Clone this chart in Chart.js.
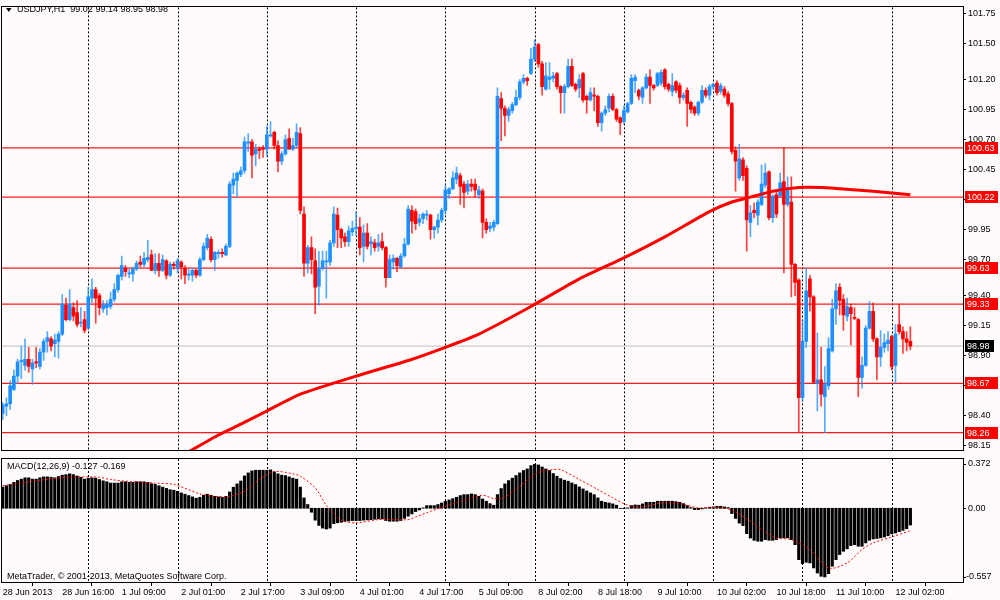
<!DOCTYPE html>
<html><head><meta charset="utf-8">
<script src="https://cdn.jsdelivr.net/npm/chart.js@4.4.1/dist/chart.umd.min.js"></script>
<style>
html,body{margin:0;padding:0;background:#fffbfa;width:1000px;height:600px;overflow:hidden}
canvas{position:absolute;left:0}
#main{top:0}
#macd{top:456px}
</style></head><body>
<canvas id="main" width="1000" height="458" style="width:1000px;height:458px"></canvas>
<canvas id="macd" width="1000" height="144" style="width:1000px;height:144px"></canvas>
<script>
// ---------- DATA ----------
const symbolTitle = 'USDJPY,H1  99.02 99.14 98.95 98.98';
const macdTitle = 'MACD(12,26,9) -0.127 -0.169';
const footerText = 'MetaTrader, \u00A9 2001-2013, MetaQuotes Software Corp.';
const tickLabels = ['28 Jun 2013','28 Jun 16:00','1 Jul 09:00','2 Jul 01:00','2 Jul 17:00','3 Jul 09:00','4 Jul 01:00','4 Jul 17:00','5 Jul 09:00','8 Jul 02:00','8 Jul 18:00','9 Jul 10:00','10 Jul 02:00','10 Jul 18:00','11 Jul 10:00','12 Jul 02:00'];
const tickEvery = 16;
const gridIdx = [23,47,71,95,119,143,167,191,215,239];
const priceTicks = [101.75,101.50,101.20,100.95,100.70,100.45,100.20,99.95,99.70,99.40,99.15,98.90,98.65,98.40,98.15];
const levels = [100.63,100.22,99.63,99.33,98.67,98.26];
const lastPrice = 98.98;
const macdTicks = [0.372,0.00,-0.557];

const opens = [
98.42,98.48,98.50,98.62,98.73,98.85,98.82,98.87,98.79,98.85,
98.81,98.93,99.02,99.04,99.00,99.02,99.08,99.32,99.20,99.30,
99.26,99.17,99.20,99.13,99.38,99.45,99.40,99.29,99.30,99.31,
99.37,99.45,99.56,99.63,99.58,99.58,99.62,99.68,99.66,99.70,
99.74,99.61,99.67,99.61,99.69,99.57,99.66,99.63,99.68,99.63,
99.57,99.57,99.61,99.57,99.70,99.80,99.87,99.70,99.75,99.76,
99.74,99.81,100.32,100.36,100.41,100.44,100.67,100.68,100.58,100.62,
100.63,100.62,100.73,100.76,100.65,100.52,100.58,100.71,100.62,100.65,
100.75,100.08,99.67,99.80,99.69,99.48,99.63,99.68,99.68,99.84,
100.07,99.95,99.89,99.85,99.93,99.96,99.97,99.81,99.92,99.83,
99.84,99.81,99.85,99.80,99.55,99.68,99.71,99.64,99.73,99.83,
100.11,100.10,100.01,100.04,100.07,100.07,99.95,99.97,100.03,100.11,
100.25,100.29,100.37,100.40,100.33,100.27,100.33,100.33,100.24,100.27,
100.01,99.96,99.97,100.00,101.04,100.96,100.90,100.94,100.99,101.05,
101.18,101.21,101.25,101.37,101.49,101.33,101.12,101.20,101.21,101.25,
101.14,101.09,101.14,101.31,101.16,101.13,101.25,101.06,101.03,101.07,
101.06,100.84,100.92,100.96,101.06,100.95,100.88,100.85,100.93,101.00,
101.19,101.11,101.05,101.13,101.22,101.15,101.15,101.17,101.28,101.16,
101.10,101.18,101.15,101.05,101.11,101.01,100.97,100.92,101.01,101.11,
101.07,101.14,101.17,101.10,101.12,101.08,101.00,100.61,100.38,100.53,
100.46,100.01,100.11,100.07,100.16,100.32,100.43,100.05,100.24,100.23,
100.35,100.16,100.18,99.66,99.53,98.55,99.02,99.54,99.39,98.67,
98.70,98.56,98.65,98.94,99.29,99.47,99.37,99.23,99.30,99.22,
99.20,98.72,98.82,99.13,99.27,99.04,98.89,98.97,99.00,99.06,
98.82,99.16,99.10,99.04,99.02];
const highs = [
98.51,98.55,98.69,98.78,98.87,98.98,99.04,98.97,98.87,98.97,
98.96,99.04,99.10,99.06,99.08,99.10,99.41,99.38,99.45,99.34,
99.36,99.30,99.27,99.47,99.54,99.47,99.42,99.36,99.36,99.43,
99.50,99.58,99.73,99.65,99.62,99.64,99.69,99.73,99.76,99.86,
99.78,99.75,99.75,99.74,99.70,99.68,99.68,99.71,99.69,99.65,
99.62,99.63,99.62,99.72,99.84,99.91,99.89,99.77,99.78,99.79,
99.83,100.35,100.42,100.43,100.47,100.72,100.75,100.70,100.66,100.64,
100.65,100.81,100.85,100.77,100.69,100.60,100.74,100.79,100.71,100.83,
100.80,100.14,99.82,99.89,99.79,99.77,99.77,99.77,99.86,100.14,
100.13,99.96,99.92,99.98,100.02,100.10,100.05,99.99,100.00,99.89,
99.87,99.91,99.92,99.81,99.74,99.74,99.72,99.75,99.88,100.15,
100.15,100.12,100.08,100.09,100.11,100.08,99.98,100.08,100.13,100.32,
100.30,100.43,100.47,100.42,100.35,100.36,100.37,100.37,100.31,100.29,
100.04,100.01,100.03,101.13,101.09,100.98,100.97,101.01,101.11,101.20,
101.24,101.22,101.46,101.53,101.50,101.35,101.34,101.34,101.26,101.26,
101.15,101.16,101.37,101.37,101.17,101.24,101.26,101.07,101.13,101.13,
101.07,100.93,100.98,101.08,101.08,100.96,100.89,100.98,101.01,101.24,
101.24,101.12,101.14,101.25,101.28,101.16,101.26,101.28,101.29,101.17,
101.25,101.19,101.17,101.09,101.13,101.02,100.98,101.02,101.15,101.13,
101.16,101.17,101.19,101.17,101.14,101.10,101.01,100.64,100.66,100.55,
100.48,100.15,100.17,100.20,100.49,100.50,100.44,100.24,100.26,100.42,
100.63,100.39,100.39,99.67,99.54,99.19,99.63,99.57,99.40,99.09,
98.97,98.81,99.05,99.37,99.50,99.50,99.41,99.38,99.33,99.30,
99.21,98.89,99.15,99.35,99.34,99.05,99.11,99.08,99.10,99.07,
99.16,99.33,99.14,99.10,99.14];
const lows = [
98.37,98.40,98.45,98.61,98.67,98.71,98.78,98.76,98.66,98.80,
98.79,98.86,98.93,98.94,98.89,98.88,99.07,99.19,99.19,99.19,
99.14,99.14,99.09,99.12,99.34,99.17,99.24,99.26,99.24,99.29,
99.35,99.43,99.53,99.56,99.55,99.52,99.61,99.64,99.64,99.68,
99.61,99.58,99.56,99.60,99.54,99.56,99.62,99.59,99.54,99.50,
99.53,99.52,99.55,99.56,99.69,99.78,99.68,99.61,99.71,99.72,
99.73,99.80,100.25,100.22,100.39,100.42,100.60,100.38,100.48,100.54,
100.55,100.56,100.72,100.62,100.43,100.49,100.57,100.62,100.61,100.63,
100.08,99.56,99.59,99.58,99.25,99.32,99.61,99.38,99.65,99.81,
99.80,99.80,99.81,99.81,99.90,99.90,99.74,99.68,99.79,99.74,
99.77,99.77,99.78,99.47,99.55,99.62,99.60,99.63,99.72,99.82,
99.92,99.95,99.98,100.00,100.03,99.87,99.88,99.92,100.01,100.08,
100.21,100.28,100.33,100.16,100.13,100.24,100.27,100.22,100.21,99.88,
99.92,99.93,99.94,99.99,100.69,100.73,100.85,100.92,100.98,101.03,
101.16,101.15,101.24,101.35,101.30,101.07,101.11,101.12,101.18,101.12,
100.92,100.92,101.13,101.14,101.10,101.05,101.01,100.92,101.02,100.94,
100.81,100.77,100.90,100.93,100.94,100.85,100.74,100.83,100.92,100.99,
101.09,101.03,101.00,101.12,101.00,101.11,101.14,101.15,101.12,101.10,
101.06,101.09,101.00,101.03,100.81,100.92,100.90,100.90,101.00,101.05,
101.03,101.12,101.07,101.08,101.05,100.98,100.58,100.27,100.36,100.36,
99.77,99.89,100.05,99.99,100.15,100.30,100.03,100.01,100.05,100.22,
99.59,100.14,99.39,99.40,98.26,98.52,98.97,99.27,98.67,98.44,
98.48,98.26,98.62,98.93,99.16,99.24,99.11,99.19,98.99,99.20,
98.56,98.63,98.81,99.12,99.02,98.70,98.81,98.93,98.94,98.78,
98.67,99.08,98.92,98.94,98.95];
const closes = [
98.49,98.50,98.65,98.73,98.85,98.86,98.87,98.81,98.84,98.84,
98.93,99.02,99.05,98.98,99.03,99.08,99.33,99.20,99.33,99.23,
99.16,99.18,99.11,99.39,99.45,99.38,99.30,99.32,99.33,99.37,
99.45,99.57,99.65,99.60,99.59,99.62,99.67,99.66,99.71,99.72,
99.61,99.67,99.61,99.70,99.57,99.66,99.65,99.69,99.64,99.57,
99.58,99.61,99.57,99.70,99.81,99.88,99.70,99.76,99.76,99.75,
99.81,100.33,100.37,100.42,100.44,100.68,100.68,100.57,100.62,100.61,
100.62,100.74,100.74,100.65,100.52,100.58,100.70,100.62,100.65,100.76,
100.11,99.67,99.80,99.70,99.47,99.63,99.69,99.69,99.84,100.08,
99.95,99.88,99.85,99.94,99.96,99.97,99.80,99.92,99.81,99.85,
99.80,99.84,99.80,99.55,99.70,99.71,99.65,99.73,99.83,100.12,
100.02,100.00,100.04,100.08,100.08,99.95,99.97,100.03,100.11,100.28,
100.29,100.38,100.42,100.31,100.26,100.33,100.31,100.28,100.28,100.01,
99.95,99.98,100.01,101.06,100.96,100.90,100.95,100.99,101.05,101.18,
101.21,101.19,101.37,101.47,101.33,101.14,101.23,101.22,101.23,101.14,
101.09,101.14,101.31,101.15,101.12,101.20,101.03,101.03,101.09,101.06,
100.84,100.92,100.95,101.06,100.95,100.87,100.84,100.94,101.00,101.21,
101.22,101.06,101.13,101.22,101.15,101.13,101.25,101.26,101.14,101.12,
101.15,101.11,101.05,101.07,101.00,100.95,100.92,101.01,101.11,101.07,
101.14,101.16,101.09,101.15,101.07,101.00,100.60,100.52,100.54,100.40,
100.03,100.09,100.09,100.18,100.33,100.42,100.05,100.23,100.08,100.34,
100.16,100.28,99.66,99.51,98.55,99.02,99.44,99.39,98.68,98.70,
98.58,98.66,98.96,99.29,99.44,99.36,99.24,99.31,99.25,99.21,
98.72,98.82,99.13,99.27,99.04,98.89,98.97,99.01,99.03,98.81,
99.08,99.10,99.04,99.01,98.98];

// 200-period moving average (read at selected bars)
const maIdx = [50,58,64,71,80,95,109,119,128,142,155,166,178,190,196,201,207,214,220,225,234,244];
const maVal = [98.10,98.24,98.33,98.44,98.58,98.73,98.86,98.97,99.08,99.31,99.54,99.70,99.89,100.10,100.18,100.22,100.27,100.30,100.30,100.29,100.27,100.24];

// MACD histogram per bar
const macdHist = [
0.16,0.17,0.18,0.196,0.21,0.22,0.23,0.23,0.22,0.22,
0.23,0.237,0.237,0.234,0.23,0.24,0.25,0.254,0.26,0.254,
0.244,0.234,0.22,0.227,0.23,0.227,0.217,0.207,0.2,0.19,
0.19,0.19,0.2,0.2,0.196,0.196,0.2,0.2,0.2,0.196,
0.186,0.18,0.17,0.16,0.15,0.14,0.136,0.128,0.116,0.106,
0.096,0.086,0.076,0.083,0.098,0.106,0.098,0.09,0.086,0.083,
0.09,0.123,0.159,0.184,0.206,0.244,0.267,0.282,0.287,0.287,
0.287,0.287,0.29,0.275,0.26,0.25,0.247,0.237,0.227,0.22,
0.16,0.078,0.028,-0.03,-0.09,-0.13,-0.15,-0.157,-0.15,-0.116,
-0.11,-0.106,-0.1,-0.096,-0.093,-0.093,-0.093,-0.09,-0.088,-0.086,
-0.083,-0.08,-0.08,-0.093,-0.098,-0.098,-0.098,-0.093,-0.076,-0.06,
-0.043,-0.025,-0.013,0.003,0.02,0.02,0.02,0.028,0.04,0.053,
0.063,0.073,0.083,0.096,0.103,0.103,0.108,0.103,0.09,0.07,
0.053,0.035,0.023,0.103,0.149,0.184,0.209,0.227,0.247,0.267,
0.285,0.297,0.322,0.332,0.327,0.312,0.297,0.285,0.262,0.242,
0.224,0.212,0.204,0.191,0.179,0.161,0.146,0.131,0.116,0.103,
0.078,0.053,0.045,0.04,0.033,0.023,-0.002,-0.003,0.003,0.02,
0.025,0.023,0.033,0.045,0.045,0.045,0.053,0.053,0.053,0.053,
0.053,0.05,0.045,0.035,0.02,0.005,-0.01,-0.01,-0.005,0.003,
0.008,0.01,0.015,0.015,0.01,0.005,-0.04,-0.077,-0.112,-0.131,
-0.192,-0.225,-0.242,-0.249,-0.249,-0.237,-0.242,-0.242,-0.237,-0.224,
-0.224,-0.224,-0.237,-0.275,-0.388,-0.418,-0.408,-0.413,-0.451,-0.489,
-0.514,-0.519,-0.494,-0.438,-0.388,-0.35,-0.325,-0.307,-0.282,-0.275,
-0.287,-0.287,-0.262,-0.242,-0.232,-0.229,-0.224,-0.217,-0.207,-0.194,
-0.187,-0.177,-0.167,-0.155,-0.127];

// MACD signal line (read at selected bars)
const sigIdx = [0,8,17,23,26,29,35,41,46,50,53,57,61,65,69,73,78,80,84,87,88,91,95,101,109,111,115,119,124,129,132,135,139,144,148,150,155,160,164,167,170,173,177,182,187,190,195,199,204,208,212,217,222,227,231,234,239,244];
const sigVal = [0.17,0.204,0.234,0.237,0.234,0.217,0.2,0.19,0.18,0.14,0.108,0.09,0.09,0.128,0.217,0.277,0.26,0.242,0.154,0.02,-0.01,-0.09,-0.11,-0.086,-0.086,-0.066,-0.023,0.015,0.06,0.098,0.073,0.083,0.166,0.272,0.292,0.292,0.217,0.141,0.078,0.035,0.01,0.015,0.04,0.035,0.003,0.005,-0.005,-0.06,-0.16,-0.224,-0.237,-0.312,-0.451,-0.413,-0.312,-0.262,-0.217,-0.169];

// ---------- LAYOUT / STYLE ----------
const FONT = '"Liberation Sans", Arial, sans-serif';
const FSIZE = 9;
const X_MIN = -0.19, X_MAX = 258.15;
const UP = '#1e90ff', DOWN = '#ff0000';
const UP_W = 'rgba(30,144,255,0.75)', DOWN_W = 'rgba(255,0,0,0.75)';

const isUp = opens.map((o,i)=> closes[i] >= o);
const wickData = opens.map((o,i)=>({x:i, y:[lows[i], highs[i]]}));
const bodyData = opens.map((o,i)=>({x:i, y:[o, closes[i]]}));
const maData = maIdx.map((x,k)=>({x, y:maVal[k]}));
const histData = macdHist.map((v,i)=>({x:i, y:v}));
const sigData = sigIdx.map((x,k)=>({x, y:sigVal[k]}));

function drawGrid(chart){
  const {ctx, chartArea:a, scales:{x}} = chart;
  ctx.save();
  ctx.strokeStyle = '#000'; ctx.lineWidth = 1; ctx.setLineDash([2,2]);
  gridIdx.forEach(i=>{
    const px = Math.round(x.getPixelForValue(i)) + 0.5;
    ctx.beginPath(); ctx.moveTo(px, a.top); ctx.lineTo(px, a.bottom); ctx.stroke();
  });
  ctx.restore();
}
function drawFrame(chart){
  const {ctx, chartArea:a} = chart;
  ctx.save();
  ctx.strokeStyle = '#000'; ctx.lineWidth = 1;
  ctx.strokeRect(Math.round(a.left)-0.5, Math.round(a.top)-0.5, Math.round(a.right-a.left)+1, Math.round(a.bottom-a.top)+1);
  ctx.restore();
}

const mainPlugin = {
  id:'mtMain',
  beforeDatasetsDraw(chart){
    const {ctx, chartArea:a, scales:{y}} = chart;
    drawGrid(chart);
    ctx.save();
    ctx.beginPath(); ctx.rect(a.left, a.top, a.right-a.left, a.bottom-a.top); ctx.clip();
    const pp = y.getPixelForValue(lastPrice);
    ctx.strokeStyle = '#c0c0c0'; ctx.lineWidth = 1;
    ctx.beginPath(); ctx.moveTo(a.left, pp); ctx.lineTo(a.right, pp); ctx.stroke();
    ctx.strokeStyle = '#ff1a1a'; ctx.lineWidth = 1.2;
    levels.forEach(v=>{
      const py = y.getPixelForValue(v);
      ctx.beginPath(); ctx.moveTo(a.left, py); ctx.lineTo(a.right, py); ctx.stroke();
    });
    ctx.restore();
  },
  afterDraw(chart){
    const {ctx, chartArea:a, scales:{y}} = chart;
    drawFrame(chart);
    ctx.save();
    ctx.font = FSIZE + 'px ' + FONT;
    ctx.textBaseline = 'middle';
    levels.forEach(v=>{
      const py = Math.round(y.getPixelForValue(v));
      ctx.fillStyle = '#ff0000';
      ctx.fillRect(a.right + 2, py - 6, 33, 12);
      ctx.fillStyle = '#ffffff';
      ctx.fillText(v.toFixed(2), a.right + 4, py + 0.5);
    });
    const pp = Math.round(y.getPixelForValue(lastPrice));
    ctx.fillStyle = '#000';
    ctx.fillRect(a.right + 2, pp - 6, 29, 12);
    ctx.fillStyle = '#fff';
    ctx.fillText(lastPrice.toFixed(2), a.right + 4, pp + 0.5);
    // title
    ctx.fillStyle = '#000';
    ctx.beginPath(); ctx.moveTo(6, 8); ctx.lineTo(11.5, 8); ctx.lineTo(8.75, 12); ctx.closePath(); ctx.fill();
    ctx.fillText(symbolTitle, 17, 10);
    ctx.restore();
  }
};

const macdPlugin = {
  id:'mtMacd',
  beforeDatasetsDraw(chart){ drawGrid(chart); },
  afterDraw(chart){
    const {ctx, chartArea:a, scales:{y}} = chart;
    drawFrame(chart);
    ctx.save();
    ctx.font = FSIZE + 'px ' + FONT;
    ctx.textBaseline = 'middle';
    ctx.fillStyle = '#000';
    ctx.fillText(macdTitle, 7, a.top + 8);
    ctx.fillText(footerText, 7, a.bottom - 5);
    macdTicks.forEach(v=>{
      let py = y.getPixelForValue(v);
      py = Math.min(Math.max(py, a.top + 5), a.bottom - 5);
      ctx.fillStyle = '#000';
      ctx.fillRect(a.right, Math.round(py) , 3, 1);
      ctx.fillText(v === 0 ? '0.00' : v.toFixed(3), a.right + (v < 0 ? 3 : 5), py);
    });
    ctx.restore();
  }
};

Chart.defaults.font.family = FONT;
Chart.defaults.font.size = FSIZE;
Chart.defaults.color = '#000';

new Chart(document.getElementById('main'), {
  type:'bar',
  data:{ datasets:[
    {type:'bar', data:wickData, backgroundColor:isUp.map(u=>u?UP_W:DOWN_W), barThickness:1, grouped:false, order:3},
    {type:'bar', data:bodyData, backgroundColor:isUp.map(u=>u?UP:DOWN), barThickness:3, minBarLength:1, grouped:false, order:2},
    {type:'line', data:maData, borderColor:'#ff0000', borderWidth:3, pointRadius:0, tension:0.2, order:1}
  ]},
  options:{
    responsive:false, animation:false,
    layout:{padding:{left:2, top:2, right:0, bottom:3}},
    plugins:{legend:{display:false}, tooltip:{enabled:false}},
    scales:{
      x:{type:'linear', min:X_MIN, max:X_MAX, display:false, offset:false},
      y:{type:'linear', position:'right', min:98.11, max:101.80,
         afterBuildTicks:s=>{ s.ticks = priceTicks.map(v=>({value:v})); },
         afterFit:s=>{ s.width = 37; },
         ticks:{autoSkip:false, padding:2, color:'#000', font:{size:FSIZE, family:FONT}, callback:v=>Number(v).toFixed(2)},
         grid:{drawOnChartArea:false, drawTicks:true, tickLength:3, color:'#000'},
         border:{display:false}}
    }
  },
  plugins:[mainPlugin]
});

new Chart(document.getElementById('macd'), {
  type:'bar',
  data:{ datasets:[
    {type:'bar', data:histData, backgroundColor:'#000', barThickness:2.5, grouped:false, order:2},
    {type:'line', data:sigData, borderColor:'#ff0000', borderWidth:1, borderDash:[2,2], pointRadius:0, tension:0.3, order:1}
  ]},
  options:{
    responsive:false, animation:false,
    layout:{padding:{left:2, top:3, right:0, bottom:0}},
    plugins:{legend:{display:false}, tooltip:{enabled:false}},
    scales:{
      x:{type:'linear', min:X_MIN, max:X_MAX, offset:false,
         afterBuildTicks:s=>{ s.ticks = tickLabels.map((t,k)=>({value:k*tickEvery})); },
         afterFit:s=>{ s.height = 18; },
         ticks:{autoSkip:false, maxRotation:0, minRotation:0, align:'start', padding:1, color:'#000', font:{size:FSIZE, family:FONT},
                callback:v=>tickLabels[Math.round(v/tickEvery)]},
         grid:{drawOnChartArea:false, drawTicks:true, tickLength:4, color:'#000'},
         border:{display:false}},
      y:{type:'linear', position:'right', min:-0.557, max:0.372,
         afterFit:s=>{ s.width = 37; },
         ticks:{display:false}, grid:{display:false}, border:{display:false}}
    }
  },
  plugins:[macdPlugin]
});
</script>
</body></html>
